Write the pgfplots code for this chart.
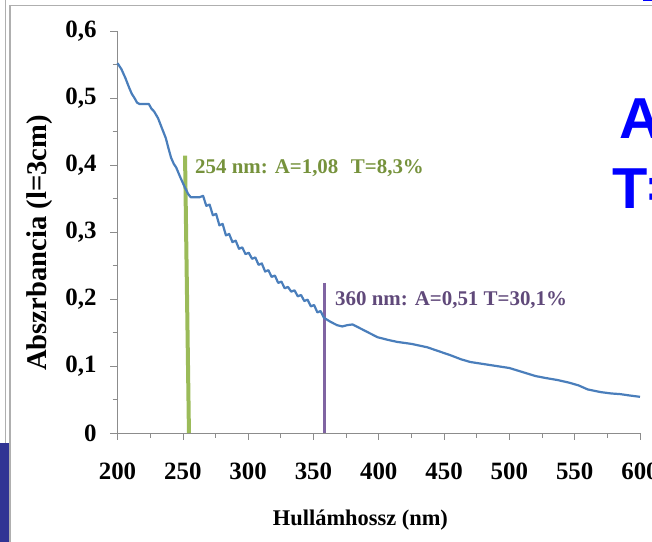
\documentclass[border=0pt]{standalone}
\usepackage{pgfplots}
\pgfplotsset{compat=1.18}
\usepackage{fontspec}
\setmainfont{Liberation Serif}
\newfontfamily\arialfont{Liberation Sans}
\definecolor{curveblue}{RGB}{74,126,187}
\definecolor{lgreen}{RGB}{155,187,89}
\definecolor{tgreen}{RGB}{118,146,60}
\definecolor{lpurple}{RGB}{128,100,162}
\definecolor{tpurple}{RGB}{96,73,122}
\definecolor{axgray}{RGB}{140,140,140}
\definecolor{framegray}{RGB}{175,175,175}
\definecolor{slideblue}{RGB}{48,52,148}
\begin{document}
\begin{tikzpicture}[x=1bp,y=1bp]
\begin{axis}[
  at={(0,0)}, anchor=south west,
  scale only axis, width=522.5bp, height=402bp,
  xmin=200, xmax=600, ymin=0, ymax=0.6,
  axis x line*=bottom, axis y line*=left,
  axis line style={draw=axgray, line width=0.8bp, -},
  xtick={200,250,300,350,400,450,500,550,600},
  xticklabels={200,250,300,350,400,450,500,550,600},
  ytick={0,0.1,0.2,0.3,0.4,0.5,0.6},
  yticklabels={0,{0,1},{0,2},{0,3},{0,4},{0,5},{0,6}},
  minor xtick={225,275,325,375,425,475,525,575},
  minor ytick={0.05,0.15,0.25,0.35,0.45,0.55},
  tick align=outside,
  major tick length=7bp, minor tick length=5bp,
  every tick/.style={draw=axgray, line width=0.6bp},
  ticklabel style={font=\fontsize{25}{25}\selectfont\bfseries, text=black},
  xticklabel style={yshift=-19bp},
  yticklabel style={xshift=-10.5bp},
  clip=false,
  xlabel={Hullámhossz (nm)},
  ylabel={Abszrbancia (l=3cm)},
  xlabel style={at={(axis description cs:0.465,-0.2164)}, anchor=center, font=\fontsize{22.5}{22.5}\selectfont\bfseries},
  ylabel style={at={(axis description cs:-0.1483,0.4726)}, anchor=center, font=\fontsize{28.7}{28.7}\selectfont\bfseries},
]
\coordinate (O) at (rel axis cs:0,0);
\addplot[lgreen, line width=4bp] coordinates {(251.7,0.414) (254.7,0)};
\addplot[lpurple, line width=3bp] coordinates {(358.6,0.224) (358.6,0)};
\addplot[curveblue, line width=2.2bp, line join=round] coordinates {
(200,0.552) (203,0.543) (206,0.530) (209,0.515) (211,0.506) (213,0.500) (215,0.493)
(217,0.491) (221,0.491) (224,0.491) (226,0.484) (228,0.480) (231,0.470) (234,0.455)
(237,0.440) (239,0.425) (241,0.411) (243,0.402) (245,0.396) (248,0.382) (251,0.369)
(254,0.357) (256,0.352) (259,0.352) (261,0.352)
(263,0.352) (265.5,0.354)
(268,0.339) (270.5,0.341)
(273,0.325) (275.5,0.327)
(278,0.310) (280.5,0.312)
(283,0.295) (285.5,0.297)
(288,0.285) (290.5,0.287)
(293,0.275) (295.5,0.277)
(298,0.267) (300.5,0.269)
(303,0.260) (305.5,0.262)
(308,0.251) (310.5,0.253)
(313,0.241) (315.5,0.243)
(318,0.233) (320.5,0.235)
(323,0.224) (325.5,0.226)
(328,0.216) (330.5,0.218)
(333,0.211) (335.5,0.213)
(338,0.204) (340.5,0.206)
(343,0.197) (345.5,0.199)
(348,0.189) (350.5,0.191)
(353,0.180) (355.5,0.182)
(358,0.172) (360.5,0.169) (363,0.166) (368,0.161) (372,0.159) (376,0.161) (380,0.162)
(384,0.158) (389,0.153) (394,0.148) (399,0.143) (407,0.139) (414,0.136) (425,0.133)
(437,0.128) (446,0.122) (455,0.116) (463,0.110) (470,0.106) (480,0.103) (490,0.100)
(500,0.097) (510,0.091) (520,0.085) (528,0.082) (537,0.079) (546,0.075) (553,0.071)
(560,0.065) (570,0.061) (578,0.059) (585,0.058) (592,0.056) (600,0.054)
};
\node[anchor=west, inner sep=0, text=tgreen, font=\fontsize{21}{21}\selectfont\bfseries] at (axis cs:259.3,0.3955) {254 nm: A=1,08\hspace{0.6em}T=8,3\%};
\node[anchor=west, inner sep=0, text=tpurple, font=\fontsize{21}{21}\selectfont\bfseries] at (axis cs:366.5,0.1985) {360 nm: A=0,51 T=30,1\%};
\end{axis}
\pgfresetboundingbox
\begin{scope}[shift={(O)}, xshift=-117.5bp, yshift=-109bp]
\path[use as bounding box] (0,0) rectangle (652,542);
% slide decorations
\draw[framegray, line width=1.6bp] (5.5,542) -- (5.5,99);
\draw[framegray, line width=1.4bp] (10,0) -- (10,536.5) -- (652,536.5);
\fill[slideblue] (0,0) rectangle (9.5,99);
\fill[blue] (643,540.5) rectangle (652,542);
\node[anchor=base west, inner sep=0, text=blue, font=\arialfont\bfseries\fontsize{58}{58}\selectfont] at (619,403) {A=};
\node[anchor=base west, inner sep=0, text=blue, font=\arialfont\bfseries\fontsize{58}{58}\selectfont] at (612,333) {T=};
\end{scope}
\end{tikzpicture}
\end{document}
